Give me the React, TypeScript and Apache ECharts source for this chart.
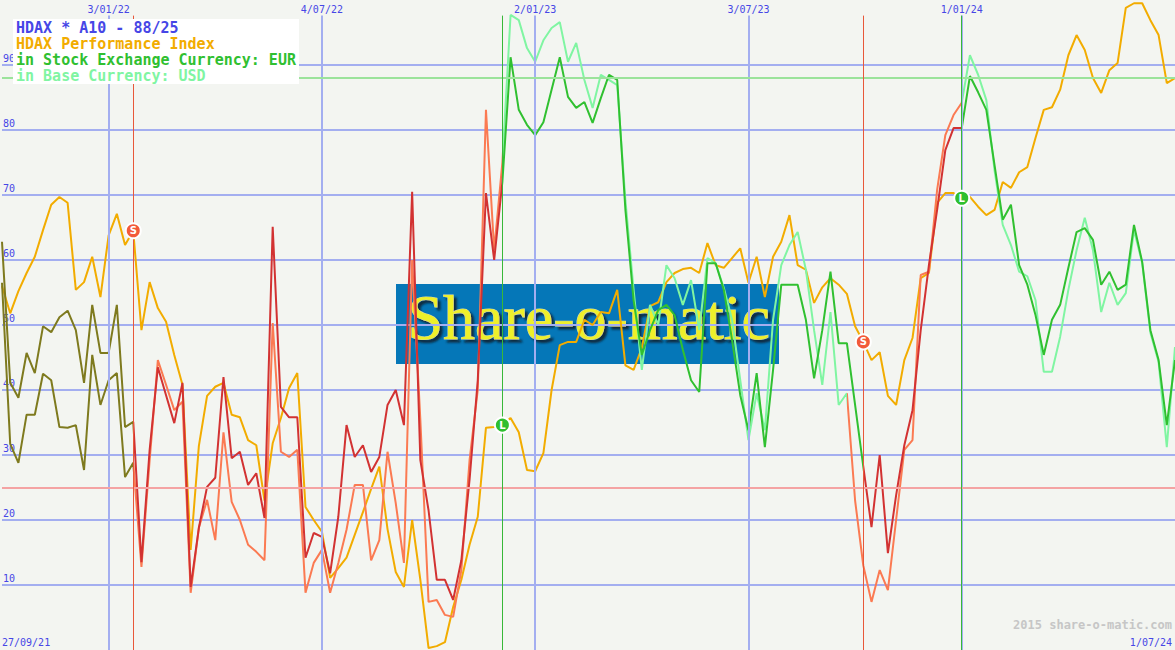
import React, { useEffect, useRef } from 'react';
import * as echarts from 'echarts';

// weekly sample dates: 4 Oct 2021 .. 1 Jul 2024 (144 weeks)
const weekCount = 144;
const weeks: number[] = Array.from({ length: weekCount }, (_, i) => new Date(2021, 9, 4 + 7 * i).getTime());

const toTs = (s: string) => {
  const [y, m, d] = s.split('-').map(Number);
  return new Date(y, m - 1, d).getTime();
};

// vertical grid dates and their labels
const gridDates = ['2022-01-03', '2022-07-04', '2023-01-02', '2023-07-03', '2024-01-01'];
const gridLabels = ['3/01/22', '4/07/22', '2/01/23', '3/07/23', '1/01/24'];
const edgeLabels = ['27/09/21', '1/07/24'];

// HDAX performance index (scaled 0..100)
const indexPerf = [
  56, 51.8, 55.2, 58, 60.5, 64.6, 68.5, 69.7, 68.8, 55.4,
  56.6, 60.5, 54.3, 63.8, 67.1, 62.3, 64.5, 49.2, 56.6, 52.6,
  50.5, 45.4, 40.8, 15.4, 31.4, 39.1, 40.5, 41.1, 36.2, 35.8,
  32.3, 31.5, 23, 31.8, 35.7, 40.3, 42.6, 22, 20, 18.2,
  11.1, 12.6, 14.2, 17.7, 21.2, 24.8, 28.2, 18.6, 12, 9.7,
  20, 10.8, 0.3, 0.6, 1.2, 6.6, 10.8, 16.2, 20.5, 34.2,
  34.3, 34.6, 35.7, 33.5, 27.7, 27.5, 30.3, 40, 46.9, 47.4,
  47.4, 50.8, 50, 52, 51.8, 55.4, 43.8, 43.1, 46.5, 52.9,
  53.5, 56.6, 58, 58.6, 58.8, 58, 62.6, 59.2, 58.8, 60.3,
  61.8, 56.5, 60.5, 54.3, 60.5, 62.8, 66.9, 59.2, 58.5, 53.4,
  55.8, 57.2, 56.2, 54.8, 49.8, 47.4, 44.6, 45.8, 39.1, 37.7,
  44.6, 48, 57.2, 58, 68.8, 70.3, 70.3, 69.5, 69.7, 68.2,
  66.9, 67.7, 72, 71.1, 73.5, 74.3, 78.8, 83.1, 83.5, 86.2,
  91.5, 94.6, 92.3, 88, 85.7, 89.2, 90.3, 98.8, 99.5, 99.5,
  96.9, 94.6, 87.2, 88,
];

// in stock exchange currency: EUR
const eurValues = [
  62.8, 41.1, 38.8, 45.7, 42.6, 49.8, 48.9, 51.2, 52.2, 49.2,
  41.1, 53.1, 45.7, 45.7, 53.1, 34.3, 35.1, 13.5, 30.8, 43.5,
  39.2, 34.9, 41.1, 9.7, 18.8, 25.1, 26.5, 42, 29.5, 30.5,
  25.4, 27.2, 20.3, 65.1, 37.4, 35.8, 35.8, 14.2, 18, 17.4,
  11.8, 20.5, 34.6, 29.7, 31.5, 27.4, 29.7, 37.7, 40, 34.6,
  70.5, 29.2, 21.5, 10.8, 10.8, 7.7, 13.8, 26.2, 41.5, 70.3,
  60, 72, 91.2, 83.1, 80.8, 79.2, 81.2, 86.2, 91.2, 85.1,
  83.4, 84.3, 81.1, 84.9, 88.5, 87.7, 67.7, 53.8, 45.4, 49.2,
  52.3, 53.1, 51.5, 46.2, 41.5, 39.7, 59.5, 59.5, 55.4, 47.7,
  39.2, 33.8, 42.6, 31.2, 43.1, 56.2, 56.2, 56.2, 50.8, 41.8,
  49.2, 58.2, 47.2, 47.2, 37.7, 28.2, 18.9, 30, 14.9, 23.8,
  31.5, 36.9, 49.2, 59.2, 67.7, 76.9, 80.3, 80.3, 88.3, 85.8,
  83.1, 74.6, 66.2, 68.5, 59.2, 56.2, 51.5, 45.4, 50.8, 53.1,
  58.8, 64.3, 64.9, 63.1, 56.2, 58.2, 55.4, 56.2, 65.4, 59.7,
  49.2, 44.6, 34.6, 44.6,
];

// in base currency: USD
const usdValues = [
  56.5, 31.7, 28.8, 36.2, 36.2, 42.5, 41.5, 34.3, 34.2, 34.6,
  27.7, 45.4, 37.7, 41.5, 42.6, 26.6, 28.8, 12.8, 29.2, 44.6,
  40.8, 36.9, 38.2, 8.8, 18.8, 23.1, 16.9, 33.5, 22.8, 20,
  16.2, 15.1, 13.8, 50.3, 30.5, 29.7, 30.8, 8.8, 13.4, 15.4,
  8.8, 13.4, 18.5, 25.4, 25.4, 13.8, 16.9, 30.5, 22.6, 13.4,
  60, 35.4, 7.4, 7.7, 5.4, 5.1, 12.3, 29.2, 40, 83.1,
  61.5, 75, 97.7, 96.9, 92.6, 90.5, 93.8, 95.7, 96.6, 90.5,
  93.4, 87.7, 83.4, 88.5, 87.7, 86.9, 69.2, 55.4, 43.1, 53.1,
  50, 59.2, 57.2, 53.1, 56.9, 49.2, 60.3, 59.5, 55.7, 50.8,
  41.5, 32.3, 39.5, 33.8, 50.8, 59.2, 62.3, 64.3, 58.5, 49.2,
  40.8, 52, 37.7, 39.5, 23, 13, 7.4, 12.3, 9.2, 20,
  30.8, 32.3, 57.7, 58.2, 70.8, 79.2, 82.3, 84.2, 91.5, 88.5,
  84.6, 73.8, 65.4, 62.3, 58.2, 57.5, 53.8, 42.8, 42.8, 48.2,
  55.4, 61.5, 66.5, 61.5, 52, 56.5, 53.1, 54.9, 64.6, 59.5,
  48.8, 44.3, 31.2, 46.6,
];

// signals (index into weeks) and their type
const signalIdx = [16, 61, 105, 117];
const signalTypes = ['S', 'L', 'S', 'L'];
// colour change points of each line
const eurChanges = [16, 61, 105, 117];
const usdChanges = [16, 61, 103, 117];

// reference levels "88/25"
const upperLevel = 88;
const lowerLevel = 25;

const legendLines = [
  'HDAX * A10 - 88/25',
  'HDAX Performance Index',
  'in Stock Exchange Currency: EUR',
  'in Base Currency: USD',
];

const C = {
  olive: '#7e7a1e',
  red: '#d23232',
  salmon: '#fb7a52',
  green: '#30c030',
  lightGreen: '#80f5a2',
  orange: '#f2ac00',
  grid: '#a3aef0',
  label: '#4646e6',
};
const legendColors = [C.label, C.orange, C.green, C.lightGreen];
const MONO = '"DejaVu Sans Mono", monospace';

function pieces(changes: number[], colors: string[]) {
  const out: any[] = [];
  for (let i = 0; i < colors.length; i++) {
    const p: any = { color: colors[i] };
    if (i > 0) p.gte = weeks[changes[i - 1]];
    if (i < changes.length) p.lt = weeks[changes[i]];
    out.push(p);
  }
  return out;
}

export default function App() {
  const ref = useRef<HTMLDivElement>(null);
  useEffect(() => {
    if (!ref.current) return;
    const chart = echarts.init(ref.current, undefined, { renderer: 'svg' });
    const option: any = {
      animation: false,
      backgroundColor: '#f3f5f1',
      grid: { left: 0, right: 0, top: 0, bottom: 0 },
      xAxis: { type: 'time', min: weeks[0], max: weeks[weekCount - 1], show: false },
      yAxis: {
        type: 'value', min: 0, max: 100, interval: 10,
        axisLine: { show: false }, axisTick: { show: false },
        splitLine: { show: true, showMinLine: false, showMaxLine: false, lineStyle: { color: C.grid, width: 2 } },
        axisLabel: {
          inside: true, verticalAlign: 'bottom', margin: 1, color: C.label, fontSize: 10,
          fontFamily: MONO, showMinLabel: false, showMaxLabel: false, padding: [0, 0, 2, 0],
        },
      },
      visualMap: [
        { type: 'piecewise', show: false, dimension: 0, seriesIndex: 1, pieces: pieces(usdChanges, [C.olive, C.salmon, C.lightGreen, C.salmon, C.lightGreen]) },
        { type: 'piecewise', show: false, dimension: 0, seriesIndex: 2, pieces: pieces(eurChanges, [C.olive, C.red, C.green, C.red, C.green]) },
      ],
      series: [
        {
          type: 'line', data: [], z: 1, silent: true,
          markLine: {
            silent: true, symbol: ['none', 'none'], animation: false,
            lineStyle: { color: C.grid, width: 2, type: 'solid' },
            label: { show: true, position: 'start', formatter: '{b}', color: C.label, fontSize: 10, fontFamily: MONO, distance: 1 },
            data: [
              ...gridDates.map((d, i) => [{ coord: [toTs(d), 97.6], name: gridLabels[i] }, { coord: [toTs(d), 0] }]),
              { yAxis: upperLevel, lineStyle: { color: '#9be39b', width: 2, type: 'solid' }, label: { show: false } },
              { yAxis: lowerLevel, lineStyle: { color: '#f4a3a3', width: 2, type: 'solid' }, label: { show: false } },
              ...signalIdx.map((si, i) => [
                { coord: [weeks[si], 97.6], lineStyle: { color: signalTypes[i] === 'S' ? '#e8583a' : '#38b838', width: 1, type: 'solid' }, label: { show: false } },
                { coord: [weeks[si], 0] },
              ]),
            ],
          },
        },
        {
          type: 'line', name: 'USD', z: 3, showSymbol: false, symbol: 'none',
          lineStyle: { width: 2 }, data: weeks.map((t, i) => [t, usdValues[i]]),
        },
        {
          type: 'line', name: 'EUR', z: 4, showSymbol: false, symbol: 'none',
          lineStyle: { width: 2 }, data: weeks.map((t, i) => [t, eurValues[i]]),
        },
        {
          type: 'line', name: 'HDAX Performance Index', z: 2, showSymbol: false, symbol: 'none',
          lineStyle: { width: 2, color: C.orange }, itemStyle: { color: C.orange },
          data: weeks.map((t, i) => [t, indexPerf[i]]),
        },
        {
          type: 'line', data: [], z: 10, silent: true,
          markPoint: {
            symbol: 'circle', symbolSize: 15, silent: true,
            label: { show: true, formatter: '{c}', color: '#ffffff', fontSize: 10, fontWeight: 'bold', fontFamily: 'DejaVu Sans' },
            data: signalIdx.map((si, i) => ({
              coord: [weeks[si], indexPerf[si]], value: signalTypes[i],
              itemStyle: { color: signalTypes[i] === 'S' ? '#f25a3a' : '#2fbf2f', borderColor: '#ffffff', borderWidth: 2 },
            })),
          },
        },
      ],
      graphic: [
        { type: 'rect', z: -1, left: 396, top: 284, shape: { width: 383, height: 80 }, style: { fill: '#0577b8' } },
        {
          type: 'text', z: -1, left: 407, top: 285,
          style: {
            text: 'Share-o-matic', font: '64px "Liberation Serif"', fill: '#eef02c', stroke: '#d8d8a8', lineWidth: 1,
            textShadowColor: '#0c2a40', textShadowOffsetX: 3, textShadowOffsetY: 3, textShadowBlur: 2,
          },
        },
        { type: 'rect', z: 100, z2: 100, left: 13, top: 19, shape: { width: 286, height: 65 }, style: { fill: '#ffffff' } },
        ...legendLines.map((t, i) => ({
          type: 'text', z: 101, z2: 101, left: 16, top: 20 + 16 * i,
          style: { text: t, fill: legendColors[i], font: `bold 15px ${MONO}` },
        })),
        { type: 'text', z: 100, left: 2, bottom: 3, style: { text: edgeLabels[0], fill: C.label, font: `10px ${MONO}` } },
        { type: 'text', z: 100, right: 3, bottom: 3, style: { text: edgeLabels[1], fill: C.label, font: `10px ${MONO}` } },
        { type: 'text', z: 100, right: 3, bottom: 19, style: { text: '2015 share-o-matic.com', fill: '#c6c6c6', font: `bold 12px ${MONO}` } },
      ],
    };
    chart.setOption(option);
    return () => chart.dispose();
  }, []);
  return <div ref={ref} style={{ position: 'fixed', left: 0, top: 0, width: 1175, height: 650 }} />;
}
